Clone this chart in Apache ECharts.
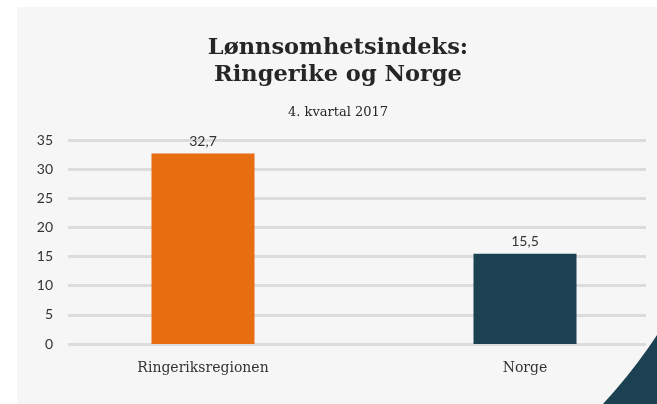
<!DOCTYPE html>
<html>
<head>
<meta charset="utf-8">
<script src="https://cdn.jsdelivr.net/npm/echarts@6/dist/echarts.min.js"></script>
<style>
  html, body { margin: 0; padding: 0; background: #fff; }
  .EC { width: 657px; height: 404px; }
</style>
</head>
<body>
<div class="EC"></div>
<script>
// Data
const categories = ['Ringeriksregionen', 'Norge']
const values = [32.7, 15.5]
const barColors = ['#e86c10', '#1b4153']

window.onload = () => {
    let EC = echarts.init(document.querySelector('.EC'), null, { renderer: 'canvas' })
    let option = {
        backgroundColor: '#fff',
        animation: false,

        // Panel + corner decoration
        graphic: [{
            type: 'rect',
            z: -10,
            shape: { x: 17, y: 7, width: 640, height: 397 },
            style: { fill: '#f6f6f6' }
        }, {
            type: 'sector',
            z: -9,
            shape: { cx: 230, cy: 56, r0: 510, r: 800, startAngle: 0.2, endAngle: 1.3, clockwise: true },
            style: { fill: '#1b4153' }
        }],

        title: [{
            text: 'Lønnsomhetsindeks:\nRingerike og Norge',
            left: 333,
            top: 30,
            textAlign: 'center',
            textStyle: {
                fontFamily: 'DejaVu Serif',
                fontSize: 22.5,
                fontWeight: 'bold',
                color: '#262626',
                lineHeight: 27
            }
        }, {
            text: '4. kvartal 2017',
            left: 333,
            top: 101,
            textAlign: 'center',
            textStyle: {
                fontFamily: 'DejaVu Serif',
                fontSize: 13,
                fontWeight: 'normal',
                color: '#262626'
            }
        }],

        // grid 0 draws gridlines + y labels, grid 1 places the bars
        grid: [
            { left: 68, right: 11, top: 140, bottom: 60 },
            { left: 42, right: -29, top: 140, bottom: 60, outerBoundsMode: 'none', containLabel: false }
        ],
        xAxis: [{
            gridIndex: 0,
            type: 'category',
            data: categories,
            show: false
        }, {
            gridIndex: 1,
            type: 'category',
            data: categories,
            axisLine: { show: false },
            axisTick: { show: false },
            axisLabel: {
                margin: 17,
                fontFamily: 'DejaVu Serif',
                fontSize: 14,
                color: '#333'
            }
        }],
        yAxis: [{
            gridIndex: 0,
            type: 'value',
            min: 0,
            max: 35,
            interval: 5,
            axisLine: { show: false },
            axisTick: { show: false },
            axisLabel: {
                margin: 15,
                fontFamily: 'Lato',
                fontSize: 14,
                color: '#333'
            },
            splitLine: {
                lineStyle: { color: '#dcdcdc', width: 3 }
            }
        }, {
            gridIndex: 1,
            type: 'value',
            min: 0,
            max: 35,
            interval: 5,
            show: false
        }],
        series: [{
            type: 'bar',
            xAxisIndex: 1,
            yAxisIndex: 1,
            barWidth: 103,
            data: values.map((v, i) => ({ value: v, itemStyle: { color: barColors[i] } })),
            label: {
                show: true,
                position: 'top',
                distance: 5,
                fontFamily: 'Lato',
                fontSize: 14,
                color: '#333',
                formatter: p => String(p.value).replace('.', ',')
            }
        }]
    }
    EC.setOption(option)
}
</script>
</body>
</html>
